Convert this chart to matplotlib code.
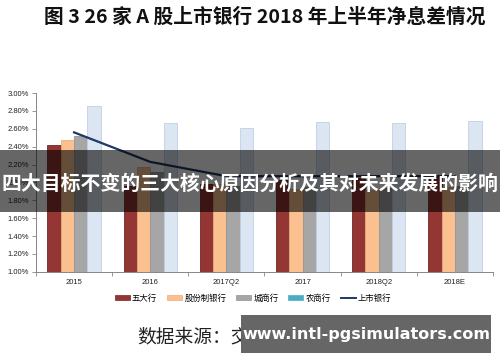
import matplotlib
matplotlib.use("Agg")
import matplotlib.pyplot as plt
from matplotlib.patches import Rectangle, Patch
from matplotlib.lines import Line2D
import numpy as np

plt.rcParams['font.family'] = ['Noto Sans CJK SC', 'DejaVu Sans']

categories = ['2015', '2016', '2017Q2', '2017', '2018Q2', '2018E']
series_names = ['五大行', '股份制银行', '城商行', '农商行']
big5 = [2.42, 1.96, 1.98, 2.03, 2.05, 2.06]
joint = [2.47, 2.17, 1.98, 1.93, 1.92, 1.95]
city = [2.52, 2.12, 1.96, 1.95, 1.94, 1.96]
rural = [2.86, 2.66, 2.61, 2.68, 2.66, 2.69]
listed = [2.56, 2.23, 2.07, 2.07, 2.07, 2.07]
line_name = '上市银行'
yticks = [1.0, 1.2, 1.4, 1.6, 1.8, 2.0, 2.2, 2.4, 2.6, 2.8, 3.0]

face = ['#943634', '#FAC090', '#A6A6A6', '#DCE6F2']
edge = ['#6E2826', '#E8AE7E', '#949494', '#BFD0E6']
legend_face = ['#943634', '#FAC090', '#A6A6A6', '#4BACC6']
line_color = '#1F3864'

fig = plt.figure(figsize=(5.0, 3.62), dpi=100)
ax = fig.add_axes([0.072, 0.249, 0.914, 0.494])

x = np.arange(len(categories))
w = 0.175
data = [big5, joint, city, rural]
for i, vals in enumerate(data):
    off = (i - 1.5) * w
    ax.bar(x + off, np.array(vals) - 1.0, width=w, bottom=1.0,
           color=face[i], edgecolor=edge[i], linewidth=0.6, zorder=2)
ax.plot(x, listed, color=line_color, lw=1.6, zorder=3)

ax.set_xlim(-0.5, len(categories) - 0.5)
ax.set_ylim(1.0, 3.0)
ax.set_yticks(yticks)
ax.set_yticklabels([f'{v:.2f}%' for v in yticks], fontsize=5.5,
                   family=['Liberation Sans', 'DejaVu Sans'], color='#222222')
ax.set_xticks(x)
ax.set_xticklabels(categories, fontsize=5.5,
                   family=['Liberation Sans', 'DejaVu Sans'], color='#222222')
ax.set_xticks(np.arange(-0.5, len(categories)), minor=True)
ax.tick_params(axis='x', which='major', length=0, pad=5)
ax.tick_params(axis='x', which='minor', length=3, color='#868686', width=0.6)
ax.tick_params(axis='y', length=3, color='#868686', width=0.6, pad=2)
for s in ['top', 'right']:
    ax.spines[s].set_visible(False)
for s in ['left', 'bottom']:
    ax.spines[s].set_color('#868686')
    ax.spines[s].set_linewidth(0.7)

handles = [Patch(facecolor=legend_face[i], edgecolor=edge[i] if i < 3 else legend_face[i], linewidth=0.5)
           for i in range(4)]
handles.append(Line2D([0], [0], color=line_color, lw=1.4))
labels = series_names + [line_name]
fig.legend(handles, labels, loc='center', bbox_to_anchor=(0.506, 0.176), ncol=5,
           frameon=False, fontsize=6, handlelength=1.8, handleheight=0.6,
           handletextpad=0.25, columnspacing=1.2)

fig.text(0.53, 0.953, '图 3 26 家 A 股上市银行 2018 年上半年净息差情况',
         ha='center', va='center', fontsize=14.2, fontweight='bold', color='#111111')

fig.text(0.274, 0.069, '数据来源：交通银行金融研究中心', ha='left', va='center',
         fontsize=13.5, color='#222222')

# overlay banner
fig.add_artist(Rectangle((0, 1 - 212 / 362), 1, 62 / 362, transform=fig.transFigure,
                         facecolor='black', alpha=0.6, edgecolor='none', zorder=10))
fig.text(0.5, 1 - 183 / 362, '四大目标不变的三大核心原因分析及其对未来发展的影响',
         ha='center', va='center', fontsize=14.3, fontweight='bold', color='white', zorder=11)

# watermark box
fig.add_artist(Rectangle((241 / 500, 1 - 353 / 362), 250 / 500, 38 / 362,
                         transform=fig.transFigure, facecolor='#666666',
                         edgecolor='none', zorder=10))
fig.text(366 / 500, 1 - 334 / 362, 'www.intl-pgsimulators.com', ha='center', va='center',
         fontsize=11.5, fontweight='bold', color='white', family=['DejaVu Sans'], zorder=11)

fig.savefig('out.png', dpi=100)
